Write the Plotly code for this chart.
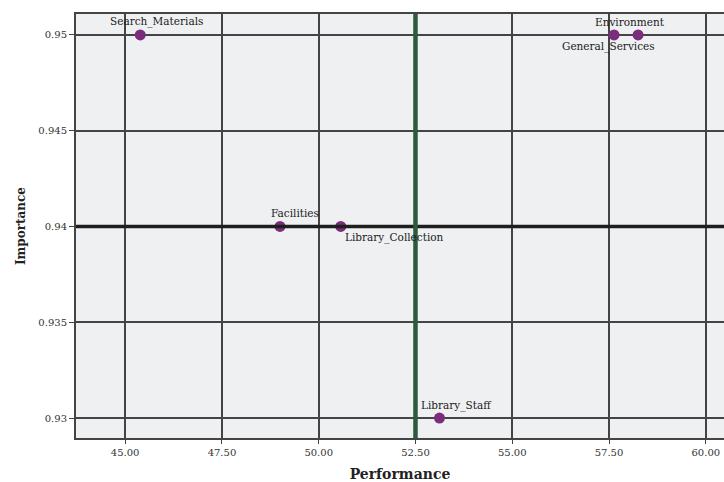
import plotly.graph_objects as go

# Data
labels = ["Search_Materials", "Environment", "General_Services", "Facilities",
          "Library_Collection", "Library_Staff"]
performance = [45.39, 57.63, 58.25, 49.0, 50.57, 53.12]
importance = [0.95, 0.95, 0.95, 0.94, 0.94, 0.93]
perf_ref = 52.5
imp_ref = 0.94
x_ticks = [45.0, 47.5, 50.0, 52.5, 55.0, 57.5, 60.0]
y_ticks = [0.93, 0.935, 0.94, 0.945, 0.95]
# label offsets (pixels)
label_dx = [16, 16, -30, 15, 54, 17]
label_dy = [13, 13, -12, 13, -11, 13]

FONT = "DejaVu Serif"
GRID = "#444444"

fig = go.Figure()

fig.add_hline(y=imp_ref, line=dict(color="#1e1e1e", width=3.5), layer="above")
fig.add_vline(x=perf_ref, line=dict(color="#2c5a3b", width=4.5), layer="above")

fig.add_trace(go.Scatter(
    x=performance, y=importance, mode="markers",
    marker=dict(color="#7b2d7b", size=11, line=dict(width=0)),
    showlegend=False, cliponaxis=False,
))

for lab, xv, yv, dx, dy in zip(labels, performance, importance, label_dx, label_dy):
    fig.add_annotation(x=xv, y=yv, text=lab, showarrow=False,
                       xshift=dx, yshift=dy,
                       font=dict(family=FONT, size=10.5, color="#1a1a1a"))

fig.update_layout(
    width=724, height=482,
    margin=dict(l=76, r=0, t=14, b=44),
    paper_bgcolor="white", plot_bgcolor="#eff0f2",
    font=dict(family=FONT, color="#222"),
)
fig.update_xaxes(
    range=[43.73, 60.47], tickvals=x_ticks, tickformat=".2f",
    showgrid=True, gridcolor=GRID, gridwidth=1.5,
    showline=True, linecolor=GRID, linewidth=2, mirror=True,
    ticks="outside", ticklen=4, tickcolor=GRID,
    tickfont=dict(family=FONT, size=10, color="#333"),
    zeroline=False,
    title=dict(text="<b>Performance</b>", font=dict(family=FONT, size=14, color="#222"), standoff=12),
)
fig.update_yaxes(
    range=[0.92896, 0.95109], tickvals=y_ticks,
    showgrid=True, gridcolor=GRID, gridwidth=1.5,
    showline=True, linecolor=GRID, linewidth=2, mirror=False,
    ticks="outside", ticklen=5, tickcolor=GRID,
    tickfont=dict(family=FONT, size=10, color="#333"),
    zeroline=False,
    title=dict(text="<b>Importance</b>", font=dict(family=FONT, size=12, color="#222"), standoff=10),
)

fig.write_html("out.html", config={"displayModeBar": False})

with open("out.html", "r", encoding="utf-8") as f:
    html = f.read()
html = html.replace("<head>", "<head><style>html,body{margin:0;padding:0;overflow:hidden}</style>", 1)
with open("out.html", "w", encoding="utf-8") as f:
    f.write(html)
